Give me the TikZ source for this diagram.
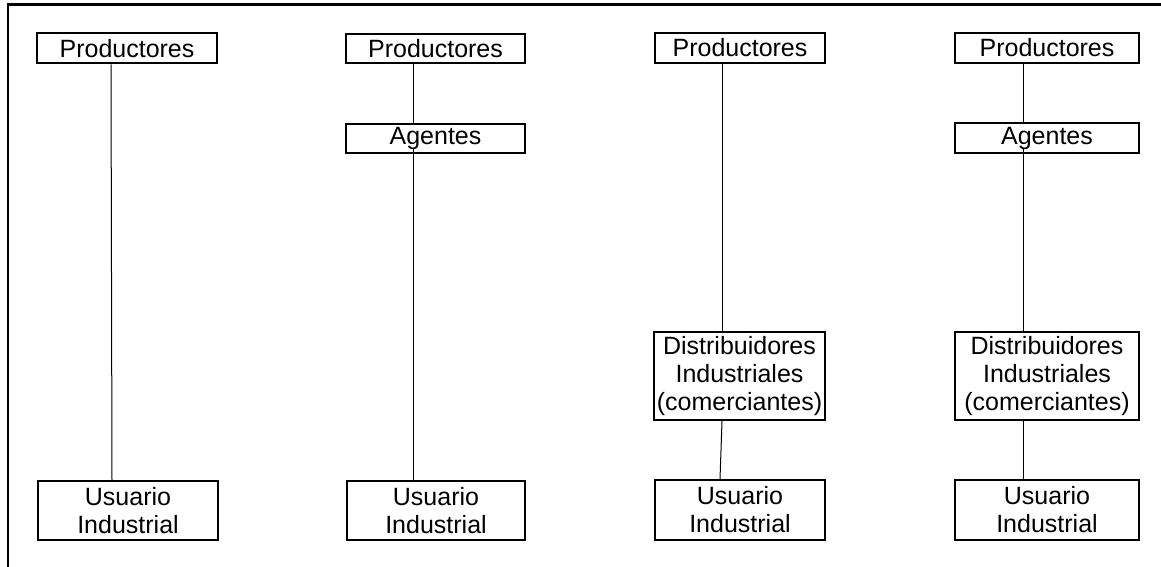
\documentclass[tikz,border=0pt]{standalone}
\usepackage{fontspec}
\setmainfont{Liberation Sans}
\begin{document}
\begin{tikzpicture}[x=1pt,y=-1pt,
  box/.style={draw, line width=2pt, inner sep=0pt, align=center,
    font=\fontsize{25}{28}\selectfont},
  conn/.style={line width=1pt}]
\useasboundingbox (0,0) rectangle (1161,567);
% frame (top and left only)
\draw[line width=2.7pt] (8,567) -- (8,4.7) -- (1161,4.7);
% column 1
\node[box, minimum width=180pt, minimum height=30pt] (p1) at (127,48.5) {Productores};
\node[box, minimum width=180pt, minimum height=59pt] (u1) at (128,510.5) {Usuario\\Industrial};
% column 2
\node[box, minimum width=179pt, minimum height=29pt] (p2) at (435.5,48.5) {Productores};
\node[box, minimum width=179pt, minimum height=29pt] (a2) at (435.5,138.5) {Agentes};
\node[box, minimum width=178pt, minimum height=59pt] (u2) at (436,510.5) {Usuario\\Industrial};
% column 3
\node[box, minimum width=170pt, minimum height=30pt] (p3) at (740,48) {Productores};
\node[box, minimum width=171pt, minimum height=88pt] (d3) at (739.5,376) {Distribuidores\\Industriales\\(comerciantes)};
\node[box, minimum width=170pt, minimum height=60pt] (u3) at (740,510) {Usuario\\Industrial};
% column 4
\node[box, minimum width=184pt, minimum height=30pt] (p4) at (1047,48) {Productores};
\node[box, minimum width=184pt, minimum height=30pt] (a4) at (1047,138) {Agentes};
\node[box, minimum width=184pt, minimum height=88pt] (d4) at (1047,376) {Distribuidores\\Industriales\\(comerciantes)};
\node[box, minimum width=184pt, minimum height=60pt] (u4) at (1047,510) {Usuario\\Industrial};
% connectors
\draw[conn] ([xshift=-16pt]p1.south) -- ([xshift=-16pt]u1.north);
\draw[conn] ([xshift=-22.5pt]p2.south) -- ([xshift=-22.5pt]a2.north);
\draw[conn] ([xshift=-22.5pt,yshift=6pt]a2.south) -- ([xshift=-23pt]u2.north);
\draw[conn] ([xshift=-18pt]p3.south) -- ([xshift=-17.5pt]d3.north);
\draw[conn] ([xshift=-17.5pt]d3.south) -- ([xshift=-20pt]u3.north);
\draw[conn] ([xshift=-24pt]p4.south) -- ([xshift=-24pt]a4.north);
\draw[conn] ([xshift=-24pt,yshift=6pt]a4.south) -- ([xshift=-24pt]d4.north);
\draw[conn] ([xshift=-24pt]d4.south) -- ([xshift=-24pt]u4.north);
\end{tikzpicture}
\end{document}
